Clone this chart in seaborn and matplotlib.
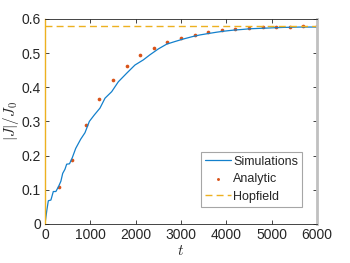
import numpy as np
import pandas as pd
import seaborn as sns
import matplotlib
matplotlib.use("Agg")
import matplotlib.pyplot as plt

# simulation curve
sim_t = [0, 40, 73, 130, 183, 240, 300, 350, 390, 440, 478, 540, 602, 677, 787,
         882, 978, 1088, 1213, 1324, 1471, 1618, 1802, 1985, 2169, 2316, 2500,
         2684, 2850, 3051, 3250, 3419, 3600, 3787, 3950, 4154, 4350, 4522, 4700,
         4890, 5050, 5257, 5450, 5625, 5800, 6000]
sim_j = [0.0, 0.04, 0.068, 0.07, 0.095, 0.095, 0.11, 0.125, 0.148, 0.16, 0.175,
         0.176, 0.194, 0.221, 0.248, 0.267, 0.30, 0.319, 0.339, 0.368, 0.387,
         0.416, 0.441, 0.465, 0.48, 0.495, 0.512, 0.526, 0.533, 0.541, 0.548,
         0.553, 0.557, 0.561, 0.564, 0.567, 0.569, 0.571, 0.572, 0.573, 0.574,
         0.575, 0.5755, 0.576, 0.576, 0.576]

# analytic points
ana_t = [300, 600, 900, 1200, 1500, 1800, 2100, 2400, 2700, 3000, 3300, 3600,
         3900, 4200, 4500, 4800, 5100, 5400, 5700, 6000]
ana_j = [0.107, 0.187, 0.289, 0.365, 0.420, 0.462, 0.494, 0.516, 0.533, 0.545,
         0.554, 0.561, 0.567, 0.571, 0.573, 0.575, 0.576, 0.577, 0.578, 0.579]

hopfield = 0.58

sns.set_theme(style="ticks")
plt.rcParams['font.family'] = ['Liberation Sans', 'DejaVu Sans']
plt.rcParams['mathtext.fontset'] = 'cm'

fig = plt.figure(figsize=(3.5, 2.63), dpi=100)
ax = fig.add_axes([0.1286, 0.1483, 0.777, 0.78])

sim = pd.DataFrame({"t": sim_t, "J": sim_j})
ana = pd.DataFrame({"t": ana_t, "J": ana_j})

sns.lineplot(data=sim, x="t", y="J", ax=ax, color="#1380CC", linewidth=0.9,
             label="Simulations", errorbar=None)
sns.scatterplot(data=ana, x="t", y="J", ax=ax, color="#D95319", s=7,
                linewidth=0, label="Analytic")
ax.axhline(hopfield, color="#EDB120", linestyle=(0, (5, 3)), linewidth=1.0,
           label="Hopfield")

ax.set_xlim(0, 6000)
ax.set_ylim(0, 0.6)
ax.set_xticks(np.arange(0, 6001, 1000))
ax.set_yticks(np.arange(0, 0.61, 0.1))
ax.set_yticklabels(["0", "0.1", "0.2", "0.3", "0.4", "0.5", "0.6"])
ax.tick_params(direction="in", length=3, width=0.6, labelsize=10,
               top=True, right=True, colors="#262626", pad=3)
ax.set_xlabel("$t$", fontsize=11, labelpad=1)
ax.set_ylabel("$|J|/J_0$", fontsize=11)
ax.yaxis.set_label_coords(-0.09, 0.5)

for side in ["top", "bottom"]:
    ax.spines[side].set_color("#262626")
    ax.spines[side].set_linewidth(0.6)
ax.spines["left"].set_color("#EDB120")
ax.spines["left"].set_linewidth(1.0)
ax.spines["right"].set_color("#c0c0c0")
ax.spines["right"].set_linewidth(2.0)

leg = ax.legend(loc="lower right", bbox_to_anchor=(0.945, 0.085), fontsize=9,
                frameon=True, fancybox=False, handlelength=2.1,
                handletextpad=0.15, borderpad=0.3, labelspacing=0.45,
                markerscale=0.8, borderaxespad=0)
leg.get_frame().set_edgecolor("#909090")
leg.get_frame().set_linewidth(0.8)

fig.savefig("out.png", dpi=100)
